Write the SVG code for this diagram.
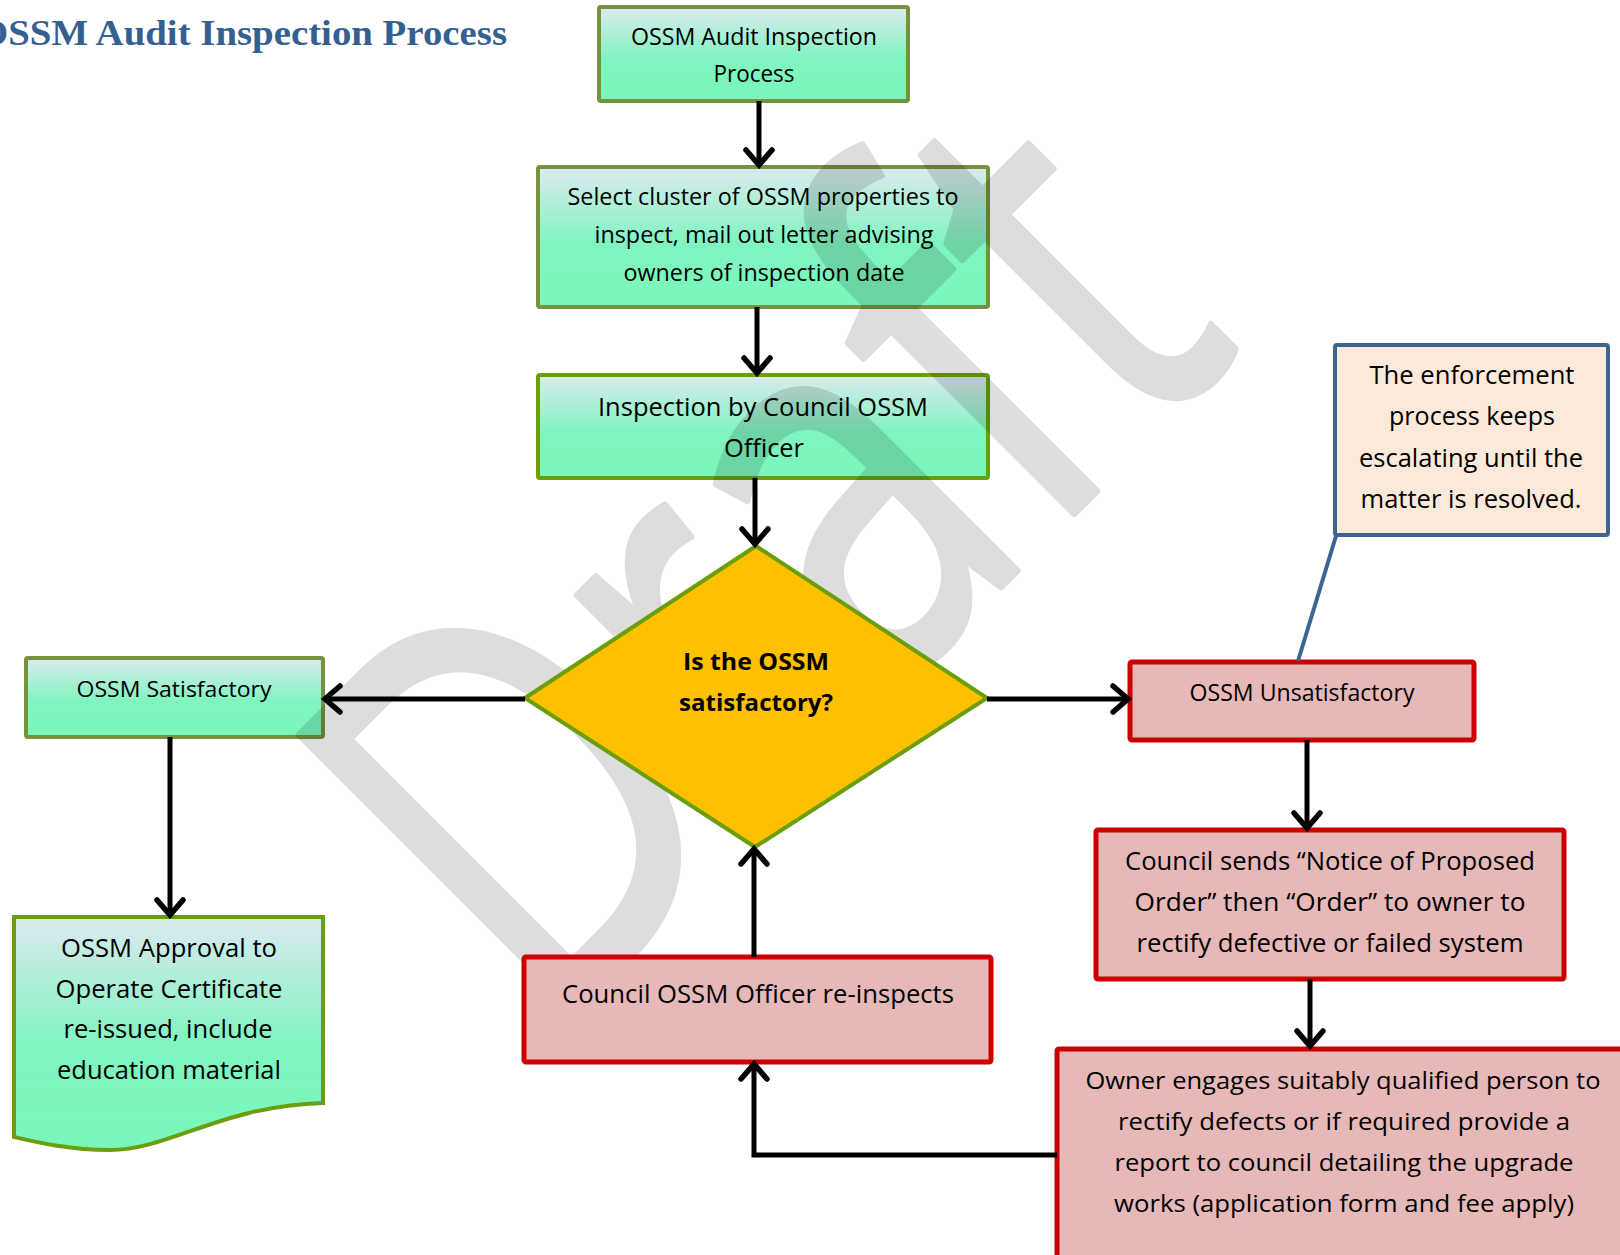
<svg xmlns="http://www.w3.org/2000/svg" width="1620" height="1255" viewBox="0 0 1620 1255">
<defs>
<style>
.t{font-family:"Open Sans","Liberation Sans",sans-serif;fill:#000;text-anchor:middle;}
.b{font-weight:bold;}
.gn{fill:url(#gg);stroke:#76923C;stroke-width:4;}
.gb{fill:url(#gg);stroke:#6A9E0C;stroke-width:4;}
.rd{fill:#E6B9B8;stroke:#CC0000;stroke-width:5;}
.cn{fill:none;stroke:#000;stroke-width:5;}
</style>
<linearGradient id="gg" x1="0" y1="0" x2="0" y2="1">
<stop offset="0" stop-color="#DCEAF1"/>
<stop offset="0.55" stop-color="#80F4BF"/>
<stop offset="1" stop-color="#79F7BB"/>
</linearGradient>
<marker id="ah" markerUnits="userSpaceOnUse" viewBox="-20 -17 26 34" markerWidth="26" markerHeight="34" refX="1" refY="0" orient="auto" overflow="visible">
<path d="M-15,-13 L0,0 L-15,13" fill="none" stroke="#000" stroke-width="5.5" stroke-linecap="round"/>
</marker>
</defs>
<rect width="1620" height="1255" fill="#fff"/>
<text x="-22" y="45" font-family="Liberation Serif, serif" font-weight="bold" font-size="35" fill="#365F91" textLength="529" lengthAdjust="spacingAndGlyphs">OSSM Audit Inspection Process</text>

<g id="n-start">
<rect class="gn" x="599" y="7" width="309" height="94" rx="2"/>
<text class="t" font-size="23"><tspan x="754" y="45" textLength="246" lengthAdjust="spacingAndGlyphs">OSSM Audit Inspection</tspan><tspan x="754" y="82" textLength="81" lengthAdjust="spacingAndGlyphs">Process</tspan></text>
</g>
<g id="n-select">
<rect class="gn" x="538" y="167" width="450" height="140" rx="2"/>
<text class="t" font-size="23.5"><tspan x="763" y="205" textLength="391" lengthAdjust="spacingAndGlyphs">Select cluster of OSSM properties to</tspan><tspan x="764" y="243" textLength="339" lengthAdjust="spacingAndGlyphs">inspect, mail out letter advising</tspan><tspan x="764" y="281" textLength="281" lengthAdjust="spacingAndGlyphs">owners of inspection date</tspan></text>
</g>
<g id="n-inspection">
<rect class="gb" x="538" y="375" width="450" height="103" rx="2"/>
<text class="t" font-size="26"><tspan x="763" y="416" textLength="330" lengthAdjust="spacingAndGlyphs">Inspection by Council OSSM</tspan><tspan x="764" y="457" textLength="80" lengthAdjust="spacingAndGlyphs">Officer</tspan></text>
</g>
<g id="n-satisfactory">
<rect class="gn" x="26" y="658" width="297" height="79" rx="2"/>
<text class="t" font-size="21" x="174" y="697" textLength="195" lengthAdjust="spacingAndGlyphs">OSSM Satisfactory</text>
</g>
<g id="n-approval">
<path class="gb" d="M14,917 H323 V1103 C220,1106 170,1150 110,1150 C70,1150 40,1143 14,1137 Z"/>
<text class="t" font-size="25.5"><tspan x="169" y="957" textLength="216" lengthAdjust="spacingAndGlyphs">OSSM Approval to</tspan><tspan x="169" y="998" textLength="227" lengthAdjust="spacingAndGlyphs">Operate Certificate</tspan><tspan x="168" y="1038" textLength="209" lengthAdjust="spacingAndGlyphs">re-issued, include</tspan><tspan x="169" y="1079" textLength="224" lengthAdjust="spacingAndGlyphs">education material</tspan></text>
</g>

<g id="watermark" opacity="0.13">
<text transform="translate(547,1041) rotate(-45) scale(1,1.326)" font-family="Open Sans, sans-serif" font-size="414" fill="#000" stroke="#000" stroke-width="5" stroke-linejoin="round">Draft</text>
</g>

<g id="n-decision">
<polygon points="756,546 987,698 755,847 525,698" fill="#FFC000" stroke="#6A9E0C" stroke-width="4" stroke-linejoin="miter"/>
<text class="t b" font-size="23.5"><tspan x="756" y="670" textLength="146" lengthAdjust="spacingAndGlyphs">Is the OSSM</tspan><tspan x="756" y="711" textLength="154" lengthAdjust="spacingAndGlyphs">satisfactory?</tspan></text>
</g>
<g id="n-unsatisfactory">
<rect class="rd" x="1130" y="662" width="344" height="78" rx="2"/>
<text class="t" font-size="23" x="1302" y="701" textLength="225" lengthAdjust="spacingAndGlyphs">OSSM Unsatisfactory</text>
</g>
<g id="n-note">
<line x1="1336" y1="536" x2="1298" y2="661" stroke="#3E6494" stroke-width="4"/>
<rect x="1335" y="345" width="273" height="190" rx="2" fill="#FCE9DA" stroke="#3E6494" stroke-width="4"/>
<text class="t" font-size="25"><tspan x="1472" y="384" textLength="205" lengthAdjust="spacingAndGlyphs">The enforcement</tspan><tspan x="1472" y="425" textLength="166" lengthAdjust="spacingAndGlyphs">process keeps</tspan><tspan x="1471" y="467" textLength="224" lengthAdjust="spacingAndGlyphs">escalating until the</tspan><tspan x="1471" y="508" textLength="221" lengthAdjust="spacingAndGlyphs">matter is resolved.</tspan></text>
</g>
<g id="n-notice">
<rect class="rd" x="1096" y="830" width="468" height="149" rx="2"/>
<text class="t" font-size="25.5"><tspan x="1330" y="870" textLength="410" lengthAdjust="spacingAndGlyphs">Council sends “Notice of Proposed</tspan><tspan x="1330" y="911" textLength="391" lengthAdjust="spacingAndGlyphs">Order” then “Order” to owner to</tspan><tspan x="1330" y="952" textLength="387" lengthAdjust="spacingAndGlyphs">rectify defective or failed system</tspan></text>
</g>
<g id="n-reinspect">
<rect class="rd" x="524" y="957" width="467" height="105" rx="2"/>
<text class="t" font-size="25" x="758" y="1003" textLength="392" lengthAdjust="spacingAndGlyphs">Council OSSM Officer re-inspects</text>
</g>
<g id="n-owner">
<rect class="rd" x="1057" y="1049" width="620" height="260" rx="2"/>
<text class="t" font-size="24.5"><tspan x="1343" y="1089" textLength="515" lengthAdjust="spacingAndGlyphs">Owner engages suitably qualified person to</tspan><tspan x="1344" y="1130" textLength="452" lengthAdjust="spacingAndGlyphs">rectify defects or if required provide a</tspan><tspan x="1344" y="1171" textLength="459" lengthAdjust="spacingAndGlyphs">report to council detailing the upgrade</tspan><tspan x="1344" y="1212" textLength="460" lengthAdjust="spacingAndGlyphs">works (application form and fee apply)</tspan></text>
</g>

<g id="connectors">
<line class="cn" x1="759" y1="101" x2="759" y2="166" marker-end="url(#ah)"/>
<line class="cn" x1="757" y1="307" x2="757" y2="374" marker-end="url(#ah)"/>
<line class="cn" x1="755" y1="478" x2="755" y2="545" marker-end="url(#ah)"/>
<line class="cn" x1="525" y1="699" x2="324" y2="699" marker-end="url(#ah)"/>
<line class="cn" x1="987" y1="699" x2="1129" y2="699" marker-end="url(#ah)"/>
<line class="cn" x1="170" y1="737" x2="170" y2="916" marker-end="url(#ah)"/>
<line class="cn" x1="1307" y1="740" x2="1307" y2="829" marker-end="url(#ah)"/>
<line class="cn" x1="1310" y1="979" x2="1310" y2="1047" marker-end="url(#ah)"/>
<line class="cn" x1="754" y1="957" x2="754" y2="848" marker-end="url(#ah)"/>
<polyline class="cn" points="1057,1155 754,1155 754,1063" stroke-linejoin="miter" marker-end="url(#ah)"/>
</g>
</svg>
